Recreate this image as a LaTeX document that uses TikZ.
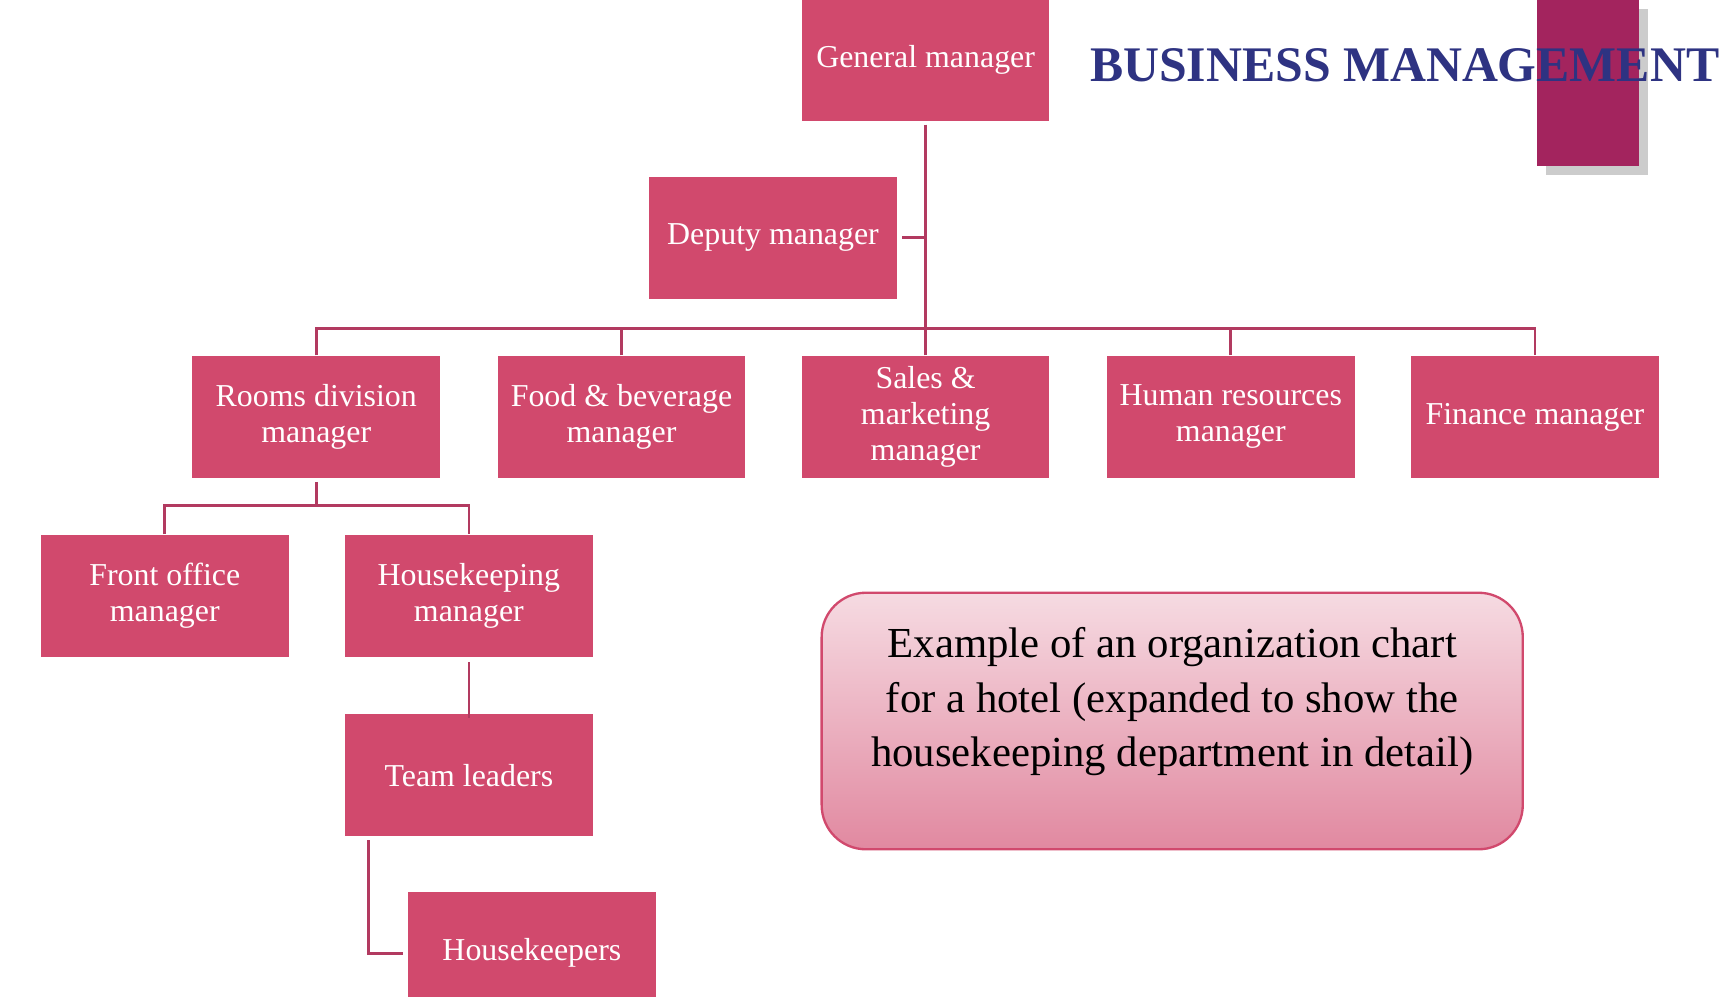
\documentclass[tikz,border=0pt]{standalone}
\usepackage{fontspec}
\setmainfont{Liberation Serif}
\usetikzlibrary{shadows}
\definecolor{boxc}{HTML}{D1496D}
\definecolor{linec}{HTML}{B23A60}
\definecolor{navy}{HTML}{2E3382}
\definecolor{plum}{HTML}{A3245E}
\begin{document}
\begin{tikzpicture}[x=0.01cm,y=-0.01cm,
  ob/.style={fill=boxc,text=white,minimum width=224*0.01cm,minimum height=110*0.01cm,inner sep=0pt,align=center,font=\fontsize{8.2}{9.3}\selectfont},
  ln/.style={draw=linec,line width=0.7pt}]
\useasboundingbox (0,0) rectangle (1568,901);
\clip (0,0) rectangle (1568,901);
\node[fill=plum,minimum width=92*0.01cm,minimum height=150*0.01cm,inner sep=0pt,drop shadow={opacity=0.4}] (bar) at (1436,75) {};
\node[anchor=base west,text=navy,font=\fontsize{12.8}{14}\selectfont\bfseries,inner sep=0pt] (title) at (985,74) {BUSINESS MANAGEMENT};
\node[ob] (gm) at (837,54) {General manager};
\node[ob] (dm) at (699,215) {Deputy manager};
\node[ob] (rd) at (286,377) {Rooms division\\manager};
\node[ob] (fb) at (562,377) {Food \& beverage\\manager};
\node[ob] (sm) at (837,377) {Sales \&\\marketing\\manager};
\node[ob] (hr) at (1113,377) {Human resources\\manager};
\node[ob] (fm) at (1388,377) {Finance manager};
\node[ob] (fo) at (149,539) {Front office\\manager};
\node[ob] (hk) at (424,539) {Housekeeping\\manager};
\node[ob] (tl) at (424,701) {Team leaders};
\node[ob] (hp) at (481,862) {Housekeepers};
\coordinate (bus) at (837,297);
\draw[ln] (gm.south)++(0,3) -- (bus);
\draw[ln] (dm.east)++(4,0) -- (837,215);
\draw[ln] (rd.north) -- (286,297) -- (1388,297) -- (fm.north);
\draw[ln] (fb.north) -- (562,297);
\draw[ln] (sm.north) -- (bus);
\draw[ln] (hr.north) -- (1113,297);
\draw[ln] (rd.south)++(0,3) -- (286,457);
\draw[ln] (fo.north) -- (149,457) -- (424,457) -- (hk.north);
\draw[ln] (hk.south)++(0,4) -- ([yshift=-0.04cm]tl.north);
\draw[ln] (333,760) -- (333,862) -- ([xshift=-0.04cm]hp.west);
\node[draw=boxc,line width=0.6pt,rounded corners=0.4cm,top color=boxc!20,bottom color=boxc!65,minimum width=634*0.01cm,minimum height=232*0.01cm,inner sep=0pt] (cap) at (1060,652) {};
\node[align=center,font=\fontsize{11}{14}\selectfont,anchor=north] (capt) at (1060,555) {Example of an organization chart\\for a hotel (expanded to show the\\housekeeping department in detail)};
\end{tikzpicture}
\end{document}
